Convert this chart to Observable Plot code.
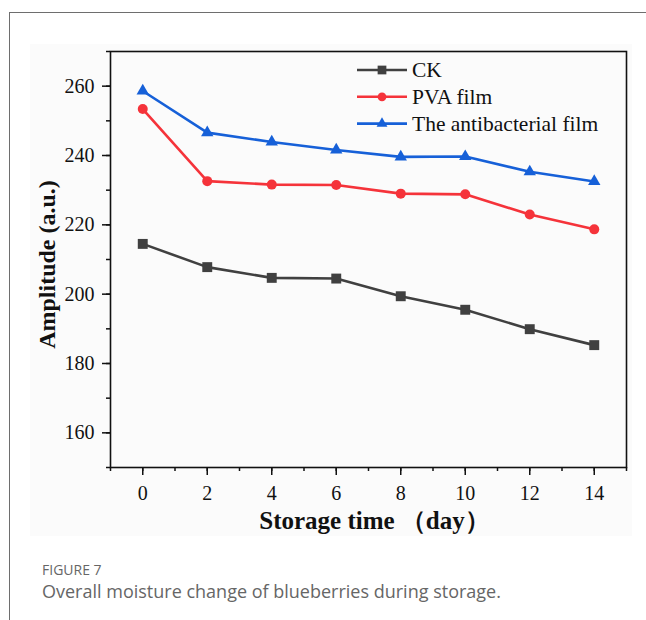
<!DOCTYPE html>
<html>
<head>
<meta charset="utf-8">
<script src="https://cdn.jsdelivr.net/npm/d3@7"></script>
<script src="https://cdn.jsdelivr.net/npm/@observablehq/plot@0.6"></script>
<style>
  body { margin: 0; background: #fff; }
  #wrap { position: relative; width: 646px; height: 620px; overflow: hidden; }
  #border { position: absolute; left: 9px; top: 12px; right: -2px; bottom: -2px; border-left: 1.5px solid #6e6e6e; border-top: 1.5px solid #6e6e6e; }
  #panel { position: absolute; left: 30px; top: 44px; width: 602px; height: 492px; background: #fbfbfb; }
  #chart { position: absolute; left: 0; top: 0; }
  #legend { position: absolute; left: 0; top: 0; }
  #fig { position: absolute; left: 42px; top: 560px; font: 14px "Open Sans", sans-serif; color: #666; }
  #cap { position: absolute; left: 42px; top: 579px; font: 18px "Open Sans", sans-serif; color: #666; white-space: nowrap; }
</style>
</head>
<body>
<div id="wrap">
  <div id="border"></div>
  <div id="panel"></div>
  <div id="chart"></div>
  <div id="fig">FIGURE 7</div>
  <div id="cap">Overall moisture change of blueberries during storage.</div>
</div>
<script>
// ---- data ----
const days = [0, 2, 4, 6, 8, 10, 12, 14];
const ck = [214.5, 207.8, 204.7, 204.5, 199.4, 195.5, 189.9, 185.3];
const pva = [253.4, 232.6, 231.6, 231.5, 229.0, 228.8, 223.0, 218.7];
const antibacterial = [258.6, 246.6, 243.9, 241.6, 239.6, 239.7, 235.3, 232.5];
const seriesNames = ["CK", "PVA film", "The antibacterial film"];
const seriesColors = ["#404040", "#f5333a", "#1660d8"];
const seriesSymbols = ["square", "circle", "triangle"];
const xMajorTicks = [0, 2, 4, 6, 8, 10, 12, 14];
const xMinorTicks = d3.range(-1, 16, 1);
const yMajorTicks = [160, 180, 200, 220, 240, 260];
const yMinorTicks = d3.range(150, 271, 10);
const xTitle = "Storage time （day）";
const yTitle = "Amplitude (a.u.)";

const seriesValues = [ck, pva, antibacterial];
const data = [];
seriesNames.forEach((name, i) => {
  days.forEach((d, j) => data.push({series: name, day: d, value: seriesValues[i][j]}));
});

const serif = "'Liberation Serif', 'Times New Roman', serif";
const dotR = {"square": 5.6, "circle": 5, "triangle": 4.6};

const marks = [
  Plot.axisY(yMinorTicks, {tickSize: 4, tickFormat: () => "", stroke: "#111", strokeWidth: 1.5, label: null}),
  Plot.axisY(yMajorTicks, {tickSize: 8, tickPadding: 8, stroke: "#111", strokeWidth: 1.5, fontSize: 20, fontFamily: serif, fill: "#111", label: null}),
  Plot.axisX(xMinorTicks, {tickSize: 4, tickFormat: () => "", stroke: "#111", strokeWidth: 1.5, label: null}),
  Plot.axisX(xMajorTicks, {tickSize: 8, tickPadding: 10, stroke: "#111", strokeWidth: 1.5, fontSize: 20, fontFamily: serif, fill: "#111", label: null}),
  Plot.frame({stroke: "#111", strokeWidth: 1.6}),
  Plot.line(data, {x: "day", y: "value", z: "series", stroke: "series", strokeWidth: 2.6})
];
seriesNames.forEach((name, i) => {
  marks.push(Plot.dot(data.filter(d => d.series === name), {
    x: "day", y: "value", fill: "series", symbol: "series", r: dotR[seriesSymbols[i]], stroke: "none"
  }));
});
marks.push(
  Plot.text([yTitle], {frameAnchor: "left", textAnchor: "middle", lineAnchor: "middle", rotate: -90, dx: -63, dy: 5, fontWeight: "bold", fontSize: 24, fontFamily: serif, fill: "#111"}),
  Plot.text([xTitle], {frameAnchor: "bottom", textAnchor: "middle", lineAnchor: "middle", dx: 6, dy: 53, fontWeight: "bold", fontSize: 25, fontFamily: serif, fill: "#111"})
);

const chart = Plot.plot({
  width: 646,
  height: 545,
  marginLeft: 110,
  marginRight: 20,
  marginTop: 51,
  marginBottom: 78,
  style: {background: "transparent", fontFamily: serif, fontSize: "20px", color: "#111"},
  x: {domain: [-1, 15], axis: null},
  y: {domain: [150, 270], axis: null},
  color: {domain: seriesNames, range: seriesColors},
  symbol: {domain: seriesNames, range: seriesSymbols},
  marks
});
document.getElementById("chart").appendChild(chart);

// ---- legend (inside plot, top right) ----
const leg = d3.select("#wrap").append("svg")
  .attr("id", "legend").attr("width", 646).attr("height", 200)
  .style("position", "absolute").style("left", "0px").style("top", "0px");
const legX = 357, legY = 70, legStep = 26.8;
seriesNames.forEach((name, i) => {
  const y = legY + i * legStep;
  leg.append("line").attr("x1", legX).attr("x2", legX + 50).attr("y1", y).attr("y2", y)
    .attr("stroke", seriesColors[i]).attr("stroke-width", 2.6);
  const sym = {square: d3.symbolSquare, circle: d3.symbolCircle, triangle: d3.symbolTriangle}[seriesSymbols[i]];
  const r = dotR[seriesSymbols[i]] * 0.88;
  leg.append("path").attr("d", d3.symbol(sym, Math.PI * r * r)())
    .attr("transform", `translate(${legX + 25},${y})`).attr("fill", seriesColors[i]);
  leg.append("text").attr("x", legX + 55).attr("y", y).attr("dy", "0.34em")
    .attr("font-family", serif).attr("font-size", 21.5).attr("fill", "#111").text(name);
});
</script>
</body>
</html>
